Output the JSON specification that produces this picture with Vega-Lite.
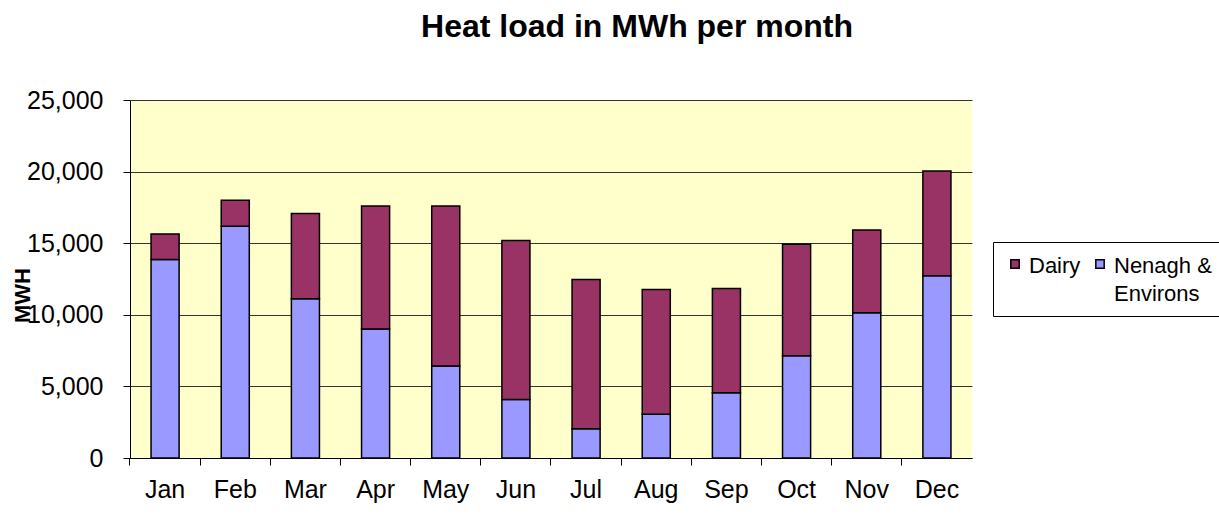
{
  "$schema": "https://vega.github.io/schema/vega-lite/v6.json",
  "width": 842,
  "height": 358,
  "autosize": {"type": "none"},
  "padding": {"left": 130, "top": 100, "right": 247, "bottom": 72},
  "background": "white",
  "config": {
    "font": "Liberation Sans",
    "view": {"fill": "#FFFFCC", "stroke": null}
  },
  "title": {
    "text": "Heat load in MWh per month",
    "font": "Liberation Sans",
    "fontSize": 32,
    "fontWeight": "bold",
    "color": "black",
    "anchor": "middle",
    "frame": "group",
    "dx": 86,
    "offset": 44
  },
  "data": {
    "values": [
      {"month": "Jan", "series": "Nenagh & Environs", "mwh": 13860},
      {"month": "Jan", "series": "Dairy", "mwh": 1790},
      {"month": "Feb", "series": "Nenagh & Environs", "mwh": 16190},
      {"month": "Feb", "series": "Dairy", "mwh": 1810},
      {"month": "Mar", "series": "Nenagh & Environs", "mwh": 11120},
      {"month": "Mar", "series": "Dairy", "mwh": 5950},
      {"month": "Apr", "series": "Nenagh & Environs", "mwh": 9000},
      {"month": "Apr", "series": "Dairy", "mwh": 8600},
      {"month": "May", "series": "Nenagh & Environs", "mwh": 6420},
      {"month": "May", "series": "Dairy", "mwh": 11180},
      {"month": "Jun", "series": "Nenagh & Environs", "mwh": 4090},
      {"month": "Jun", "series": "Dairy", "mwh": 11100},
      {"month": "Jul", "series": "Nenagh & Environs", "mwh": 2050},
      {"month": "Jul", "series": "Dairy", "mwh": 10420},
      {"month": "Aug", "series": "Nenagh & Environs", "mwh": 3050},
      {"month": "Aug", "series": "Dairy", "mwh": 8720},
      {"month": "Sep", "series": "Nenagh & Environs", "mwh": 4560},
      {"month": "Sep", "series": "Dairy", "mwh": 7280},
      {"month": "Oct", "series": "Nenagh & Environs", "mwh": 7140},
      {"month": "Oct", "series": "Dairy", "mwh": 7790},
      {"month": "Nov", "series": "Nenagh & Environs", "mwh": 10140},
      {"month": "Nov", "series": "Dairy", "mwh": 5790},
      {"month": "Dec", "series": "Nenagh & Environs", "mwh": 12720},
      {"month": "Dec", "series": "Dairy", "mwh": 7330}
    ]
  },
  "mark": {"type": "bar", "stroke": "black", "strokeWidth": 1.5},
  "encoding": {
    "x": {
      "field": "month",
      "type": "nominal",
      "sort": ["Jan","Feb","Mar","Apr","May","Jun","Jul","Aug","Sep","Oct","Nov","Dec"],
      "scale": {"paddingInner": 0.6, "paddingOuter": 0.3},
      "axis": {
        "title": null,
        "labelAngle": 0,
        "labelFontSize": 25,
        "labelColor": "black",
        "labelPadding": 12,
        "labelOffset": 0,
        "bandPosition": -0.75,
        "tickColor": "black",
        "tickSize": 7,
        "domainColor": "black",
        "domainWidth": 1,
        "grid": false
      }
    },
    "y": {
      "field": "mwh",
      "type": "quantitative",
      "stack": "zero",
      "scale": {"domain": [0, 25000], "nice": false},
      "axis": {
        "title": "MWH",
        "titleFontSize": 22,
        "titleFontWeight": "bold",
        "titleColor": "black",
        "titleX": -108,
        "titleY": 195,
        "titleAlign": "center",
        "titleBaseline": "middle",
        "values": [0, 5000, 10000, 15000, 20000, 25000],
        "format": ",d",
        "labelFontSize": 25,
        "labelColor": "black",
        "labelPadding": 20,
        "tickColor": "black",
        "tickSize": 7,
        "domainColor": "black",
        "grid": true,
        "gridColor": "#333333",
        "gridWidth": 1
      }
    },
    "color": {
      "field": "series",
      "type": "nominal",
      "scale": {"domain": ["Dairy", "Nenagh & Environs"], "range": ["#993366", "#9999FF"]},
      "legend": {
        "title": null,
        "orient": "none",
        "legendX": 863,
        "legendY": 142,
        "direction": "horizontal",
        "columns": 2,
        "fillColor": "white",
        "strokeColor": "black",
        "padding": 11,
        "symbolType": "square",
        "symbolSize": 70,
        "symbolStrokeColor": "black",
        "symbolStrokeWidth": 1.5,
        "symbolOpacity": 1,
        "labelFontSize": 22,
        "labelColor": "black",
        "labelLimit": 300,
        "labelOffset": 3,
        "labelBaseline": "top",
        "columnPadding": 8,
        "labelExpr": "datum.label == 'Dairy' ? ['Dairy', ' '] : ['Nenagh &', '  Environs']",
        "encode": {"labels": {"update": {"lineHeight": {"value": 28}, "dy": {"value": -8}}}}
      }
    },
    "order": {"field": "series", "sort": "descending"}
  }
}
